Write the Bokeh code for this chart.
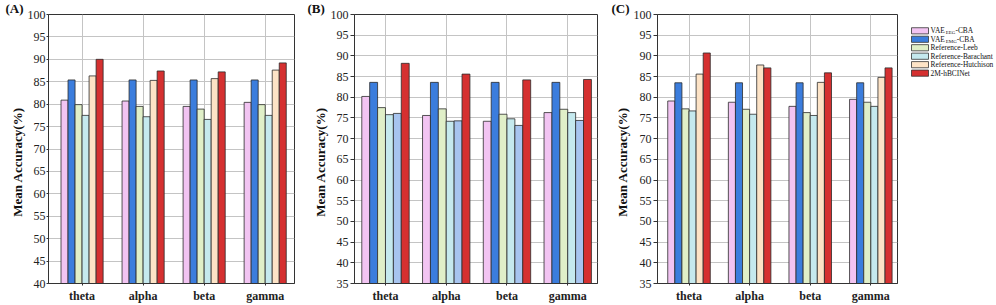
import math
from bokeh.plotting import figure
from bokeh.layouts import row
from bokeh.models import Range1d, FixedTicker, Title
from bokeh.embed import file_html
from bokeh.resources import INLINE
from bokeh.core.properties import value

# ---------------- data ----------------
bands = ["theta", "alpha", "beta", "gamma"]

# Panel A
a_vae_eeg = [80.9, 80.7, 79.5, 80.4]
a_vae_emg = [85.4, 85.4, 85.4, 85.4]
a_leeb = [79.9, 79.5, 78.9, 79.9]
a_barachant = [77.5, 77.2, 76.6, 77.5]
a_hutchison = [86.3, 85.3, 85.7, 87.6]
a_hbci = [90.0, 87.4, 87.2, 89.2]

# Panel B
b_vae_eeg = [80.2, 75.6, 74.2, 76.3]
b_vae_emg = [83.6, 83.6, 83.6, 83.6]
b_leeb = [77.5, 77.2, 75.9, 77.1]
b_barachant = [75.8, 74.2, 74.8, 76.3]
b_hutchison = [76.1, 74.3, 73.2, 74.4]
b_hbci = [88.2, 85.6, 84.2, 84.3]

# Panel C
c_vae_eeg = [79.1, 78.8, 77.8, 79.5]
c_vae_emg = [83.5, 83.5, 83.5, 83.5]
c_leeb = [77.2, 77.1, 76.3, 78.8]
c_barachant = [76.7, 75.9, 75.6, 77.8]
c_hutchison = [85.6, 87.8, 83.6, 84.8]
c_hbci = [90.7, 87.1, 85.9, 87.1]

legend_main = ["VAE", "VAE", "Reference-Leeb", "Reference-Barachant",
               "Reference-Hutchison", "2M-hBCINet"]
legend_sub = ["EEG", "EMG", "", "", "", ""]
legend_tail = ["-CBA", "-CBA", "", "", "", ""]

y_ticks_a = [40, 45, 50, 55, 60, 65, 70, 75, 80, 85, 90, 95, 100]
y_ticks_bc = [35, 40, 45, 50, 55, 60, 65, 70, 75, 80, 85, 90, 95, 100]
y_title = "Mean Accuracy(%)"

# ---------------- style ----------------
PINK = "#f2c4f2"
BLUE = "#3b7ddd"
GREEN = "#e0efc8"
CYAN = "#c5e9ee"
PEACH = "#fde3c6"
RED = "#d53030"
LBLUE = "#a7c4ef"
SERIF = "Liberation Serif"
DARK = "#222222"
NBSP_PAD = "\u00a0" * 8   # pushes the rotated y title a little below the frame centre


def make_panel(letter, series, colors, yticks, xr, bw, bl, br, fw,
               tick_out, tick_standoff, title_standoff, letter_offset):
    y0 = yticks[0]
    p = figure(width=fw, height=305, output_backend="svg", toolbar_location=None,
               x_range=Range1d(*xr), y_range=Range1d(y0, 100),
               min_border_left=bl, min_border_right=br,
               min_border_top=14, min_border_bottom=21, title=None)
    p.background_fill_color = "white"
    p.border_fill_color = "white"
    p.outline_line_color = "#333333"
    p.outline_line_width = 1

    idx = list(range(len(bands)))
    p.xaxis.ticker = FixedTicker(ticks=idx)
    p.xaxis.major_label_overrides = {i: b for i, b in enumerate(bands)}
    p.xgrid.ticker = FixedTicker(ticks=idx)
    p.yaxis.ticker = FixedTicker(ticks=yticks)
    p.ygrid.ticker = FixedTicker(ticks=yticks)

    for ax in (p.xaxis, p.yaxis):
        ax.axis_line_color = "#333333"
        ax.major_tick_line_color = "#333333"
        ax.minor_tick_line_color = None
        ax.major_tick_in = 0
        ax.major_label_text_font = SERIF
        ax.major_label_text_color = DARK
    p.xaxis.major_tick_out = 2
    p.yaxis.major_tick_out = tick_out
    p.xaxis.major_label_standoff = 3
    p.yaxis.major_label_standoff = tick_standoff
    p.xaxis.major_label_text_font_size = "12px"
    p.xaxis.major_label_text_font_style = "bold"
    p.yaxis.major_label_text_font_size = "12px"

    p.grid.grid_line_color = "#c4c4c4"
    p.grid.grid_line_width = 1

    n = len(series)
    for i, (vals, col) in enumerate(zip(series, colors)):
        xs = [k + (i - (n - 1) / 2) * bw for k in idx]
        p.vbar(x=xs, top=vals, bottom=y0, width=bw, fill_color=col,
               line_color="#2b2b2b", line_width=0.8)

    p.add_layout(Title(text=y_title + NBSP_PAD, align="center",
                       standoff=title_standoff, text_font=SERIF,
                       text_font_size="13px", text_font_style="bold",
                       text_color="#111111"), "left")
    p.add_layout(Title(text=letter, align="left", offset=letter_offset,
                       standoff=-3, text_font=SERIF, text_font_size="13px",
                       text_font_style="bold", text_color="#111111"), "above")
    return p


pa = make_panel("(A)", [a_vae_eeg, a_vae_emg, a_leeb, a_barachant, a_hutchison, a_hbci],
                [PINK, BLUE, GREEN, CYAN, PEACH, RED], y_ticks_a,
                (-0.55, 3.48), 0.115, 48, 6, 300, 2, 1, 0, -43)
pb = make_panel("(B)", [b_vae_eeg, b_vae_emg, b_leeb, b_barachant, b_hutchison, b_hbci],
                [PINK, BLUE, GREEN, CYAN, LBLUE, RED], y_ticks_bc,
                (-0.51, 3.49), 0.13, 54, 3, 300, 4, 2, 0, -47)
pc = make_panel("(C)", [c_vae_eeg, c_vae_emg, c_leeb, c_barachant, c_hutchison, c_hbci],
                [PINK, BLUE, GREEN, CYAN, PEACH, RED], y_ticks_bc,
                (-0.52, 3.44), 0.117, 57, 3, 300, 4, 2, 1, -46)

# ---------------- legend panel ----------------
pl = figure(width=96, height=305, output_backend="svg", toolbar_location=None,
            x_range=Range1d(0, 96), y_range=Range1d(305, 0),
            x_axis_type=None, y_axis_type=None, min_border=0, title=None)
pl.grid.visible = False
pl.outline_line_color = None
pl.background_fill_color = "white"
pl.border_fill_color = "white"

leg_colors = [PINK, BLUE, GREEN, CYAN, PEACH, RED]
main_fs = 7.4
sub_fs = 5.0
em_w = {"V": 0.722, "A": 0.722, "E": 0.611, "M": 0.889, "G": 0.722}
ys = [18.5 + 9.6 * i for i in range(len(leg_colors))]
pl.rect(x=[19.5] * len(ys), y=ys, width=17, height=7, fill_color=leg_colors,
        line_color="#333333", line_width=0.8)
pl.text(x=[30] * len(ys), y=ys, text=legend_main, text_font=value(SERIF),
        text_font_size=f"{main_fs}px", text_baseline="middle", text_color="#111111")
for y, m, s, t in zip(ys, legend_main, legend_sub, legend_tail):
    if not s:
        continue
    xs = 30 + sum(em_w[c] for c in m) * main_fs
    pl.text(x=[xs], y=[y + 2], text=[s], text_font=value(SERIF),
            text_font_size=f"{sub_fs}px", text_baseline="middle", text_color="#111111")
    xt = xs + sum(em_w[c] for c in s) * sub_fs
    pl.text(x=[xt], y=[y], text=[t], text_font=value(SERIF),
            text_font_size=f"{main_fs}px", text_baseline="middle", text_color="#111111")

layout = row(pa, pb, pc, pl, spacing=0)
open("out.html", "w").write(file_html(layout, INLINE))
